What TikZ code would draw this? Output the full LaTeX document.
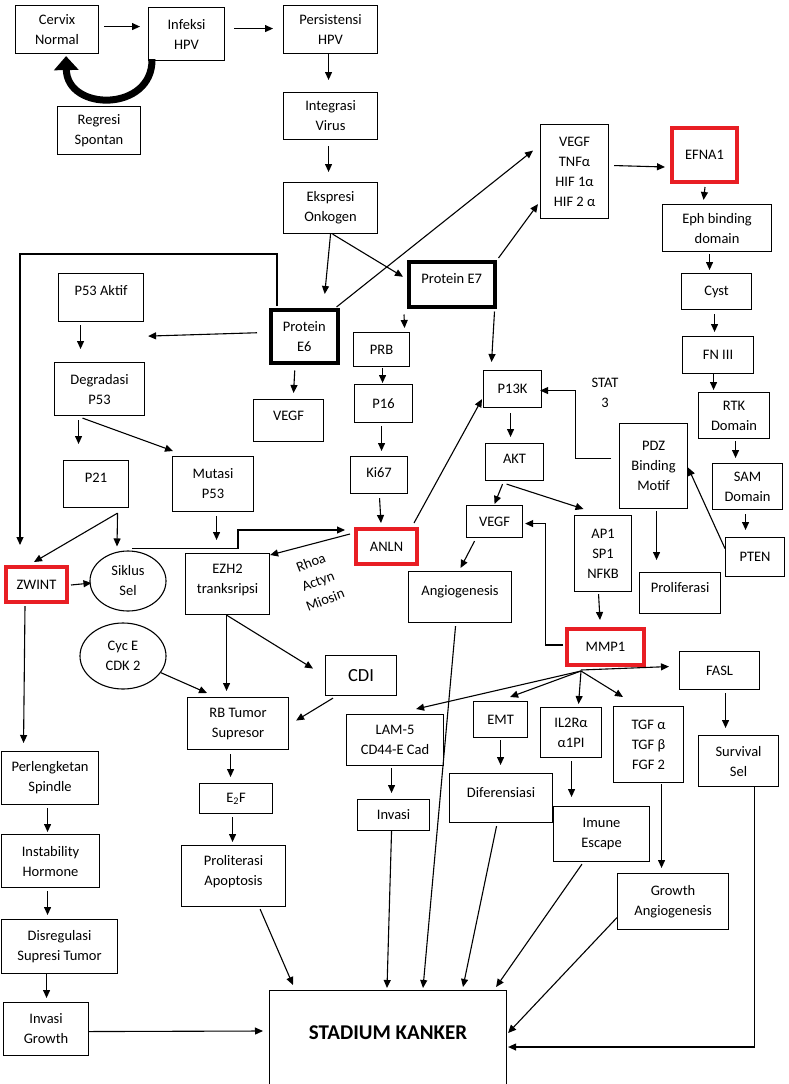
\documentclass[tikz,border=0pt]{standalone}
\usepackage{fontspec}
\setmainfont{Carlito}
\usetikzlibrary{arrows.meta,calc,shapes.geometric}
\definecolor{markred}{RGB}{232,30,36}
\newcommand{\txtup}[1]{\rule[-#1]{0pt}{#1}}

\begin{document}
\begin{tikzpicture}[x=1pt,y=-1pt,>={Triangle[length=8pt,width=7pt]},
  box/.style={draw,line width=1.1pt,anchor=north west,align=center,inner sep=2pt,font=\fontsize{14.5}{20}\selectfont},
  redbox/.style={box,draw=markred,line width=4pt},
  heavybox/.style={box,line width=3.5pt},
  oval/.style={draw,ellipse,line width=1.1pt,inner sep=0pt,align=center,font=\fontsize{14.5}{20}\selectfont},
  plain/.style={align=center,font=\fontsize{14.5}{20}\selectfont},
  link/.style={->,line width=1.1pt}]
\useasboundingbox (0,0) rectangle (789,1084);

\node[box,minimum width=83,minimum height=48] (cervix) at (15,5) {Cervix\\Normal};
\node[box,minimum width=76,minimum height=53] (infeksi) at (148,7) {Infeksi\\HPV};
\node[box,minimum width=94,minimum height=48] (persist) at (283,5) {Persistensi\\HPV};
\node[box,minimum width=83,minimum height=48] (regresi) at (57,106) {Regresi\\Spontan};
\node[box,minimum width=94,minimum height=47] (integrasi) at (283,92) {Integrasi\\Virus};
\node[box,minimum width=94,minimum height=51] (ekspresi) at (283,182) {Ekspresi\\Onkogen};
\node[box,minimum width=68,minimum height=94] (vegfhif) at (540,124) {VEGF\\TNFα\\HIF 1α\\HIF 2 α};
\node[redbox,minimum width=65,minimum height=54] (efna) at (670,126) {EFNA1};
\node[box,minimum width=109,minimum height=47] (eph) at (662,204) {Eph binding\\domain};
\node[box,minimum width=70,minimum height=36] (cyst) at (681,273) {Cyst};
\node[box,minimum width=71,minimum height=37] (fn) at (682,336) {FN III};
\node[box,minimum width=71,minimum height=46] (rtk) at (698,392) {RTK\\Domain};
\node[box,minimum width=70,minimum height=46] (sam) at (712,463) {SAM\\Domain};
\node[box,minimum width=59,minimum height=39] (pten) at (725,537) {PTEN};
\node[box,minimum width=68,minimum height=85] (pdz) at (619,423) {PDZ\\Binding\\Motif};
\node[box,minimum width=81,minimum height=41] (prolif) at (639,572) {Proliferasi\txtup{11pt}};
\node[box,minimum width=58,minimum height=37] (p13k) at (483,370) {P13K};
\node[box,minimum width=58,minimum height=37] (akt) at (485,443) {AKT\txtup{7pt}};
\node[box,minimum width=56,minimum height=32] (vegf2) at (466,505) {VEGF};
\node[box,minimum width=103,minimum height=51] (angio) at (408,571) {Angiogenesis\txtup{13pt}};
\node[box,minimum width=57,minimum height=76] (ap1) at (574,515) {AP1\\SP1\\NFKB};
\node[redbox,minimum width=77,minimum height=36] (mmp) at (565,627) {MMP1};
\node[box,minimum width=80,minimum height=38] (fasl) at (679,651) {FASL};
\node[box,minimum width=80,minimum height=51] (survival) at (698,735) {Survival\\Sel};
\node[box,minimum width=97,minimum height=51] (lam) at (346,714) {LAM-5\\CD44-E Cad};
\node[box,minimum width=72,minimum height=31] (invasi) at (357,799) {Invasi};
\node[box,minimum width=54,minimum height=36] (emt) at (473,701) {EMT};
\node[box,minimum width=103,minimum height=49] (dif) at (449,773) {Diferensiasi\txtup{11pt}};
\node[box,minimum width=61,minimum height=50] (il2) at (540,707) {IL2Rα\\α1PI};
\node[box,minimum width=96,minimum height=55] (imune) at (553,806) {Imune\\Escape};
\node[box,minimum width=70,minimum height=76] (tgf) at (613,706) {TGF α\\TGF β\\FGF 2};
\node[box,minimum width=111,minimum height=56] (growth) at (617,873) {Growth\\Angiogenesis};
\node[box,minimum width=237,minimum height=110,font=\fontsize{21}{24}\selectfont\bfseries] (stadium) at (269,990) {STADIUM KANKER\txtup{26pt}};
\node[heavybox,minimum width=86,minimum height=45] (e7) at (407,260) {Protein E7\txtup{11pt}};
\node[heavybox,minimum width=67,minimum height=53] (e6) at (269,308) {Protein\\E6};
\node[box,minimum width=85,minimum height=48] (p53a) at (58,273) {P53 Aktif\txtup{14pt}};
\node[box,minimum width=90,minimum height=53] (degr) at (54,362) {Degradasi\\P53};
\node[box,minimum width=70,minimum height=42] (vegf1) at (253,399) {VEGF\txtup{10pt}};
\node[box,minimum width=56,minimum height=34] (prb) at (353,332) {PRB};
\node[box,minimum width=58,minimum height=38] (p16) at (354,384) {P16};
\node[box,minimum width=57,minimum height=37] (ki67) at (350,456) {Ki67\txtup{5pt}};
\node[redbox,minimum width=61,minimum height=35] (anln) at (354,527) {ANLN};
\node[box,minimum width=65,minimum height=47] (p21) at (63,460) {P21\txtup{13pt}};
\node[box,minimum width=81,minimum height=55] (mutasi) at (172,456) {Mutasi\\P53};
\node[redbox,minimum width=61,minimum height=35] (zwint) at (4,565) {ZWINT};
\node[oval,minimum width=76,minimum height=60] (siklus) at (128,581) {Siklus\\Sel};
\node[box,minimum width=84,minimum height=61] (ezh2) at (185,553) {EZH2\\tranksripsi\txtup{10pt}};
\node[plain,rotate=21] (rhoa) at (318,581) {Rhoa\\Actyn\\Miosin};
\node[plain] (stat) at (605,393) {STAT\\3};
\node[oval,minimum width=86,minimum height=66] (cyce) at (123,656) {Cyc E\\CDK 2};
\node[box,minimum width=71,minimum height=40,font=\fontsize{18.5}{22}\selectfont] (cdi) at (325,655) {CDI};
\node[box,minimum width=101,minimum height=52] (rb) at (187,697) {RB Tumor\\Supresor};
\node[box,minimum width=73,minimum height=30] (e2f) at (199,783) {E\textsubscript{2}F};
\node[box,minimum width=104,minimum height=61] (prolit) at (181,845) {Proliterasi\\Apoptosis\txtup{11pt}};
\node[box,minimum width=97,minimum height=53] (perl) at (1,751) {Perlengketan\\Spindle};
\node[box,minimum width=98,minimum height=53] (instab) at (1,834) {Instability\\Hormone};
\node[box,minimum width=116,minimum height=54] (disreg) at (1,919) {Disregulasi\\Supresi Tumor};
\node[box,minimum width=85,minimum height=53] (invgrowth) at (3,1002) {Invasi\\Growth};

\draw[link] ($(cervix.east)+(5,-3)$) -- ($(infeksi.west)+(-8,-7.5)$);
\draw[link] ($(infeksi.east)+(9,-5.5)$) -- ($(persist.west)+(-10,-1)$);
\draw[link] ($(persist.south)+(-2,0)$) -- ($(integrasi.north)+(-2,-12)$);
\draw[link] ($(integrasi.south)+(-2,6)$) -- ($(ekspresi.north)+(-2,-10)$);
\draw[line width=7pt,-{Triangle[length=14pt,width=24pt]}] ($(infeksi.south west)+(4,-2)$) .. controls (153,112) and (67,112) .. ($(cervix.south)+(9,2)$);
\draw[link] (ekspresi.south) -- ($(e6.north)+(20.5,-14)$);
\draw[link] ($(ekspresi.south)+(2,0)$) -- ($(e7.west)+(-4,-7.5)$);
\draw[link] ($(e6.north east)+(-3,-1)$) -- ($(vegfhif.west)+(-7,-21)$);
\draw[link] ($(e7.north east)+(2,-2)$) -- ($(vegfhif.south west)+(-2,-15)$);
\draw[link] ($(vegfhif.east)+(5,-6)$) -- ($(efna.west)+(-5,12)$);
\draw[link] ($(efna.south)+(0.5,3)$) -- ($(eph.north)+(-13.5,-4)$);
\draw[link] ($(eph.south)+(-7.5,2)$) -- ($(cyst.north)+(-7,-3)$);
\draw[link] ($(cyst.south)+(-2,4)$) -- ($(fn.north)+(-3.5,-4)$);
\draw[link] ($(fn.south)+(-4.5,0)$) -- ($(rtk.north)+(-20.5,-2)$);
\draw[link] ($(rtk.south)+(1.5,2)$) -- ($(sam.north)+(-12,-5)$);
\draw[link] ($(sam.south)+(-2,4)$) -- ($(pten.north)+(-9.5,-7)$);
\draw[link] ($(pten.west)+(0,-8.5)$) -- ($(pdz.east)+(0,1.5)$);
\draw[link] ($(pdz.west)+(-8,-7.5)$) -| ($(p13k.east)+(33,1.5)$) -- ($(p13k.east)+(-2,1.5)$);
\draw[link] ($(pdz.south)+(3,2)$) -- ($(prolif.north)+(-23.5,-12)$);
\draw[link] ($(e7.south east)+(-2,3)$) -- ($(p13k.north)+(-21,-8)$);
\draw[link] ($(anln.north east)+(-5,-4)$) -- ($(p13k.south west)+(-1,-9)$);
\draw[link] ($(p13k.south)+(-2,5)$) -- ($(akt.north)+(-4,-6)$);
\draw[link] ($(akt.south)+(-12,3)$) -- ($(vegf2.north)+(0,-1)$);
\draw[link] ($(akt.south)+(-8,3)$) -- ($(ap1.north)+(-19.5,-6)$);
\draw[link] ($(vegf2.south)+(-20,3)$) -- ($(angio.north)+(0.5,-3)$);
\draw[link] ($(ap1.south)+(-4.5,2)$) -- ($(mmp.north)+(-5.5,-7)$);
\draw[link] ($(mmp.west)+(-2,-2)$) -| ($(vegf2.east)+(22,2)$) -- ($(vegf2.east)+(2,2)$);
\draw[link] ($(anln.west)+(-4,-12.5)$) -- ($(ezh2.north east)+(0,2)$);
\draw[link] ($(siklus.north)+(4,-2)$) -| ($(anln.west)+(-116,-16.5)$) -- ($(anln.west)+(-9,-16.5)$);
\coordinate (p21fork) at ($(p21.south)+(21.5,5)$);
\draw[link] (p21fork) -- ($(zwint.north)+(-2.5,-3)$);
\draw[link] (p21fork) -- ($(siklus.north)+(-11,-4)$);
\draw[link] ($(mutasi.south)+(3.5,4)$) -- ($(ezh2.north)+(-11,-13)$);
\draw[link] ($(zwint.east)+(2,0.5)$) -- ($(siklus.west)+(2,2)$);
\draw[link] ($(zwint.south)+(-11.5,2)$) -- ($(perl.north)+(-26.5,-8)$);
\draw[link] ($(e6.north west)+(8,-2)$) |- ($(zwint.north west)+(16,-311)$) -- ($(zwint.north west)+(16,-20)$);
\draw[link] ($(e6.west)+(-12,-3.5)$) -- ($(p53a.south east)+(4,14)$);
\draw[link] ($(e6.south)+(-9.5,6)$) -- ($(vegf1.north)+(5,-6)$);
\draw[link] ($(e7.south west)+(-3,6)$) -- ($(prb.north)+(23,-4)$);
\draw[link] ($(prb.south)+(1,1)$) -- ($(p16.north)+(-1,-1)$);
\draw[link] ($(p16.south)+(-2,3)$) -- ($(ki67.north)+(2.5,-5)$);
\draw[link] ($(ki67.south)+(0.5,4)$) -- ($(anln.north)+(-5.5,-4)$);
\draw[link] ($(p53a.south)+(-20.5,3)$) -- ($(degr.north)+(-19,-13)$);
\draw[link] ($(degr.south)+(-21,4)$) -- ($(p21.north)+(-17.5,-16)$);
\draw[link] ($(degr.south)+(-17,2)$) -- ($(mutasi.north west)+(1,-5)$);
\draw[link] ($(ezh2.south)+(-1,0)$) -- ($(rb.north)+(-11.5,-6)$);
\draw[link] ($(ezh2.south)+(-1,0)$) -- ($(cdi.west)+(-12,-7)$);
\draw[link] (cyce) -- ($(rb.north west)+(20,-4)$);
\draw[link] ($(cdi.south west)+(8,2)$) -- ($(rb.east)+(7,-3)$);
\draw[link] ($(rb.south)+(-7.5,4)$) -- ($(e2f.north)+(-5.5,-6)$);
\draw[link] ($(e2f.south)+(-3.5,3)$) -- ($(prolit.north)+(-1,-3)$);
\draw[link] ($(prolit.south east)+(-26,2)$) -- ($(stadium.north west)+(24,-5)$);
\draw[link] ($(perl.south)+(-2.5,3)$) -- ($(instab.north)+(-3,-2)$);
\draw[link] ($(instab.south)+(-3,3)$) -- ($(disreg.north)+(-12,-4)$);
\draw[link] ($(disreg.south)+(-13,0)$) -- ($(invgrowth.north)+(0.5,-4)$);
\draw[link] ($(invgrowth.east)+(0,2.5)$) -- ($(stadium.north west)+(-6,41)$);
\draw[link] ($(lam.south)+(-3.5,2)$) -- ($(invasi.north)+(-2,-6)$);
\draw[link] ($(invasi.south)+(-2,0)$) -- ($(stadium.north west)+(118,-2)$);
\draw[link] ($(angio.south)+(-4.5,3)$) -- ($(stadium.north west)+(154,-2)$);
\draw[link] ($(emt.south)+(0,2)$) -- ($(dif.north)+(-0.5,-8)$);
\draw[link] ($(dif.south)+(-4.5,3)$) -- ($(stadium.north west)+(194,-3)$);
\draw[link] ($(il2.south)+(0.5,3)$) -- ($(imune.north)+(-30,-9)$);
\draw[link] ($(imune.south west)+(29,2)$) -- ($(stadium.north east)+(-11,-3)$);
\draw[link] ($(tgf.south)+(13,1)$) -- ($(growth.north)+(-11.5,-5)$);
\draw[link] ($(growth.west)+(0,16)$) -- ($(stadium.north east)+(1,43)$);
\draw[link] ($(mmp.south)+(-24.5,4)$) -- ($(lam.north east)+(-28,-5)$);
\draw[link] ($(mmp.south)+(-24.5,4)$) -- ($(emt.north east)+(-18,-4)$);
\draw[link] ($(mmp.south)+(-24.5,4)$) -- ($(il2.north)+(7.5,-3)$);
\draw[link] ($(mmp.south)+(-24.5,4)$) -- ($(tgf.north west)+(10,-9)$);
\draw[link] ($(mmp.south)+(-24.5,3)$) -- ($(fasl.west)+(-10,-4)$);
\draw[link] ($(fasl.south)+(6,3)$) -- ($(survival.north)+(-13,-7)$);
\draw[link] ($(survival.south)+(16,0)$) |- ($(stadium.north east)+(1,57)$);
\end{tikzpicture}
\end{document}
